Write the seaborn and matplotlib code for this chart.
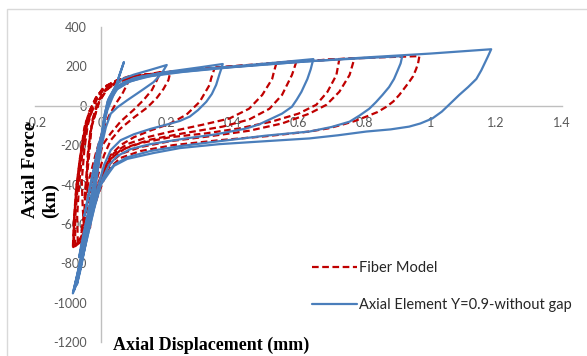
import matplotlib
matplotlib.use("Agg")
import matplotlib.pyplot as plt
import seaborn as sns
from matplotlib.lines import Line2D
from matplotlib.patches import Rectangle

# ---------------- data ----------------
series_names = ["Fiber Model", "Axial Element Y=0.9-without gap"]

x_ticks = [-0.2, 0, 0.2, 0.4, 0.6, 0.8, 1.0, 1.2, 1.4]
x_tick_labels = ["-0.2", "0", "0.2", "0.4", "0.6", "0.8", "1", "1.2", "1.4"]
y_ticks = [-1200, -1000, -800, -600, -400, -200, 0, 200, 400]
y_tick_labels = ["-1200", "-1000", "-800", "-600", "-400", "-200", "0", "200", "400"]

# Axial Element (blue) hysteresis loops
blue1_x = [0.005, 0.015, 0.027, 0.05, 0.07, 0.055, 0.042, 0.02, 0.005, -0.015, -0.035, -0.05, -0.038, -0.022, -0.008, 0.005]
blue1_y = [-140, -40, 35, 120, 222, 150, 70, -20, -120, -280, -440, -560, -450, -320, -200, -140]

blue2_x = [0.005, 0.012, 0.025, 0.045, 0.065, 0.1, 0.15, 0.2, 0.185, 0.16, 0.13, 0.11, 0.08, 0.05, 0.03, 0.015, 0.0, -0.02, -0.04, -0.06, -0.066, -0.05, -0.03, -0.015, 0.0]
blue2_y = [-140, -40, 40, 100, 136, 158, 182, 207, 165, 120, 85, 62, 28, -8, -40, -110, -220, -380, -550, -710, -770, -650, -480, -330, -190]

blue3_x = [0.0, 0.01, 0.022, 0.045, 0.1, 0.2, 0.3, 0.37, 0.365, 0.36, 0.35, 0.337, 0.32, 0.295, 0.27, 0.24, 0.21, 0.15, 0.1, 0.06, 0.03, 0.01, -0.01, -0.03, -0.05, -0.07, -0.055, -0.035, -0.02, -0.007, 0.0]
blue3_y = [-190, -60, 30, 95, 140, 172, 195, 212, 185, 160, 106, 60, 20, -22, -55, -77, -91, -118, -145, -175, -225, -300, -420, -560, -700, -860, -760, -600, -450, -300, -190]

blue4_x = [0.0, 0.008, 0.02, 0.04, 0.07, 0.12, 0.2, 0.33, 0.45, 0.55, 0.645, 0.637, 0.627, 0.609, 0.595, 0.58, 0.55, 0.512, 0.48, 0.44, 0.35, 0.25, 0.15, 0.09, 0.05, 0.025, 0.005, -0.015, -0.035, -0.055, -0.073, -0.06, -0.042, -0.027, -0.012, 0.0]
blue4_y = [-190, -80, 20, 85, 120, 148, 170, 190, 207, 222, 237, 185, 136, 71, 32, -5, -40, -70, -95, -116, -145, -168, -195, -220, -255, -300, -370, -480, -620, -770, -910, -820, -660, -510, -350, -190]

blue5_x = [0.0, 0.01, 0.022, 0.045, 0.08, 0.13, 0.2, 0.35, 0.5, 0.65, 0.8, 0.915, 0.91, 0.9, 0.89, 0.875, 0.855, 0.835, 0.815, 0.785, 0.755, 0.7, 0.633, 0.5, 0.36, 0.24, 0.15, 0.08, 0.04, 0.015, 0.0, -0.02, -0.04, -0.065, -0.085, -0.072, -0.055, -0.036, -0.02, -0.006, 0.0]
blue5_y = [-190, -70, 15, 80, 118, 145, 165, 190, 210, 228, 242, 252, 215, 175, 136, 95, 55, 18, -15, -50, -81, -108, -131, -152, -180, -205, -230, -262, -300, -350, -400, -510, -640, -810, -953, -860, -720, -560, -410, -280, -190]

blue6_x = [0.0, 0.012, 0.025, 0.05, 0.09, 0.15, 0.25, 0.4, 0.6, 0.8, 1.0, 1.185, 1.175, 1.165, 1.155, 1.14, 1.115, 1.088, 1.057, 1.035, 1.006, 0.97, 0.936, 0.88, 0.806, 0.72, 0.633, 0.5, 0.36, 0.24, 0.16, 0.08, 0.04, 0.027, 0.0, -0.02, -0.04, -0.06, -0.08, -0.066, -0.048, -0.03, -0.015, -0.003, 0.0]
blue6_y = [-190, -60, 20, 85, 125, 150, 172, 196, 222, 245, 265, 287, 250, 215, 180, 136, 95, 55, 5, -30, -65, -90, -106, -120, -131, -150, -166, -180, -195, -215, -240, -270, -305, -335, -400, -520, -660, -800, -935, -840, -690, -530, -380, -250, -190]

# Fiber Model (red dashed) hysteresis loops
red1_x = [-0.02, -0.005, 0.015, 0.04, 0.065, 0.09, 0.08, 0.065, 0.045, 0.025, 0.005, -0.015, -0.035, -0.05, -0.045, -0.04, -0.032, -0.02]
red1_y = [-60, 20, 75, 115, 138, 152, 110, 60, 10, -50, -130, -240, -370, -480, -380, -250, -130, -60]

red2_x = [-0.02, -0.005, 0.02, 0.05, 0.1, 0.18, 0.17, 0.155, 0.13, 0.1, 0.06, 0.03, 0.006, -0.01, -0.03, -0.045, -0.06, -0.05, -0.045, -0.035, -0.028, -0.02]
red2_y = [-60, 25, 85, 120, 145, 171, 130, 80, 30, -20, -80, -140, -197, -290, -430, -560, -650, -530, -400, -240, -100, -60]

red3_x = [-0.025, -0.005, 0.02, 0.06, 0.12, 0.21, 0.205, 0.19, 0.17, 0.14, 0.1, 0.06, 0.03, 0.01, -0.01, -0.025, -0.033, -0.04, -0.042, -0.035, -0.025]
red3_y = [-70, 30, 90, 125, 150, 165, 130, 85, 40, -10, -60, -115, -175, -250, -360, -480, -620, -480, -330, -180, -70]

red4_x = [-0.025, -0.01, 0.015, 0.05, 0.1, 0.18, 0.26, 0.345, 0.335, 0.33, 0.3, 0.26, 0.21, 0.15, 0.1, 0.06, 0.03, 0.01, -0.012, -0.03, -0.05, -0.055, -0.058, -0.05, -0.04, -0.03]
red4_y = [-70, 20, 85, 125, 148, 168, 180, 190, 140, 106, 20, -45, -91, -126, -160, -200, -250, -320, -420, -540, -650, -520, -380, -220, -100, -40]

red5_x = [-0.03, -0.015, 0.01, 0.05, 0.12, 0.2, 0.3, 0.4, 0.47, 0.533, 0.525, 0.52, 0.49, 0.45, 0.39, 0.31, 0.22, 0.14, 0.08, 0.04, 0.015, -0.01, -0.03, -0.05, -0.07, -0.072, -0.066, -0.055, -0.04, -0.03]
red5_y = [-40, 30, 90, 128, 155, 170, 186, 200, 208, 217, 170, 136, 55, -15, -65, -96, -128, -160, -195, -240, -300, -400, -520, -630, -700, -560, -400, -220, -80, -40]

red6_x = [-0.03, -0.012, 0.012, 0.05, 0.12, 0.2, 0.3, 0.4, 0.5, 0.594, 0.585, 0.58, 0.55, 0.512, 0.45, 0.37, 0.25, 0.15, 0.08, 0.04, 0.015, -0.01, -0.03, -0.055, -0.078, -0.078, -0.07, -0.058, -0.045, -0.03]
red6_y = [-40, 35, 92, 128, 155, 170, 187, 201, 214, 227, 180, 156, 55, -15, -70, -106, -140, -172, -210, -255, -320, -420, -540, -660, -710, -570, -400, -220, -80, -40]

red7_x = [-0.035, -0.015, 0.01, 0.05, 0.12, 0.2, 0.3, 0.45, 0.6, 0.66, 0.724, 0.715, 0.688, 0.654, 0.6, 0.52, 0.42, 0.32, 0.21, 0.12, 0.06, 0.03, 0.01, -0.01, -0.035, -0.06, -0.082, -0.08, -0.072, -0.062, -0.05, -0.035]
red7_y = [-30, 40, 95, 130, 155, 170, 186, 205, 225, 231, 237, 156, 71, 5, -40, -80, -115, -140, -160, -190, -225, -270, -330, -430, -560, -680, -715, -560, -400, -250, -110, -30]

red8_x = [-0.035, -0.015, 0.01, 0.05, 0.12, 0.2, 0.3, 0.45, 0.6, 0.7, 0.77, 0.755, 0.724, 0.685, 0.633, 0.55, 0.45, 0.33, 0.21, 0.12, 0.06, 0.03, 0.01, -0.01, -0.035, -0.06, -0.084, -0.081, -0.074, -0.064, -0.05, -0.035]
red8_y = [-30, 40, 95, 130, 155, 170, 186, 205, 225, 234, 242, 156, 71, 5, -40, -90, -127, -155, -180, -210, -245, -290, -350, -450, -580, -690, -718, -570, -410, -270, -130, -30]

red9_x = [-0.035, -0.015, 0.01, 0.05, 0.12, 0.2, 0.3, 0.45, 0.6, 0.72, 0.85, 0.967, 0.963, 0.957, 0.948, 0.936, 0.922, 0.906, 0.888, 0.867, 0.84, 0.806, 0.77, 0.733, 0.69, 0.633, 0.5, 0.36, 0.22, 0.12, 0.06, 0.03, 0.01, -0.01, -0.035, -0.06, -0.085, -0.082, -0.075, -0.064, -0.05, -0.035]
red9_y = [-30, 40, 95, 130, 155, 170, 186, 205, 225, 237, 246, 252, 215, 186, 150, 121, 90, 55, 22, -5, -32, -55, -78, -96, -115, -131, -155, -175, -200, -230, -265, -310, -370, -460, -590, -690, -722, -580, -420, -280, -150, -50]

red_loops = [(red1_x, red1_y), (red2_x, red2_y), (red3_x, red3_y), (red4_x, red4_y),
             (red5_x, red5_y), (red6_x, red6_y), (red7_x, red7_y), (red8_x, red8_y),
             (red9_x, red9_y)]
blue_loops = [(blue1_x, blue1_y), (blue2_x, blue2_y), (blue3_x, blue3_y),
              (blue4_x, blue4_y), (blue5_x, blue5_y), (blue6_x, blue6_y)]

# ---------------- styling ----------------
RED = "#C00000"
BLUE = "#4A7EBB"
RED_DASH = (0, (3, 1.6))

sns.set_theme(style="white")
plt.rcParams["font.family"] = ["Lato", "DejaVu Sans"]
plt.rcParams["axes.unicode_minus"] = False

W, H = 587, 356
fig = plt.figure(figsize=(W / 100, H / 100), dpi=100)
fig.patch.set_facecolor("white")
fig.add_artist(Rectangle((7 / W, -0.1), 1.2, 1 - 9 / H + 0.1, transform=fig.transFigure,
                         fill=False, edgecolor="#D9D9D9", lw=1))

ax = fig.add_axes([35 / W, 14 / H, 527 / W, 315 / H])
ax.set_facecolor("none")

for xs, ys in red_loops:
    sns.lineplot(x=xs, y=ys, sort=False, estimator=None, color=RED, lw=1.6,
                 linestyle=RED_DASH, ax=ax, zorder=3)
for xs, ys in blue_loops:
    sns.lineplot(x=xs, y=ys, sort=False, estimator=None, color=BLUE, lw=1.6,
                 ax=ax, zorder=4)

ax.set_xlim(-0.2, 1.4)
ax.set_ylim(-1200, 400)
ax.set_xticks(x_ticks)
ax.set_xticklabels(x_tick_labels)
ax.set_yticks(y_ticks)
ax.set_yticklabels(y_tick_labels)
ax.set_xlabel("")
ax.set_ylabel("")

for s in ["top", "right"]:
    ax.spines[s].set_visible(False)
ax.spines["left"].set_position(("data", 0))
ax.spines["bottom"].set_position(("data", 0))
for s in ["left", "bottom"]:
    ax.spines[s].set_color("#BFBFBF")
    ax.spines[s].set_linewidth(1.0)
    ax.spines[s].set_zorder(1)
ax.tick_params(length=0, labelsize=9, labelcolor="#595959")
ax.tick_params(axis="y", pad=10)
ax.tick_params(axis="x", pad=8)
ax.grid(False)

handles = [Line2D([], [], color=RED, lw=1.6, linestyle=RED_DASH),
           Line2D([], [], color=BLUE, lw=1.6)]
ax.legend(handles, series_names, loc="upper left",
          bbox_to_anchor=(312 / W, 1 - 261 / H), bbox_transform=fig.transFigure,
          frameon=False, borderpad=0, borderaxespad=0, handlelength=3.1,
          handletextpad=0.15, labelspacing=1.6, fontsize=10.5, labelcolor="#262626")

serif_bold = dict(family=["Liberation Serif", "DejaVu Serif"], weight="bold")
fig.text(40.5 / W, 1 - 218 / H, "Axial Force\n(kn)", rotation=90, ha="center",
         va="bottom", multialignment="left", fontsize=14, color="black", **serif_bold)
fig.text(113 / W, 1 - 350 / H, "Axial Displacement (mm)", ha="left", va="baseline",
         fontsize=13, color="black", **serif_bold)

fig.savefig("out.png", dpi=100)
